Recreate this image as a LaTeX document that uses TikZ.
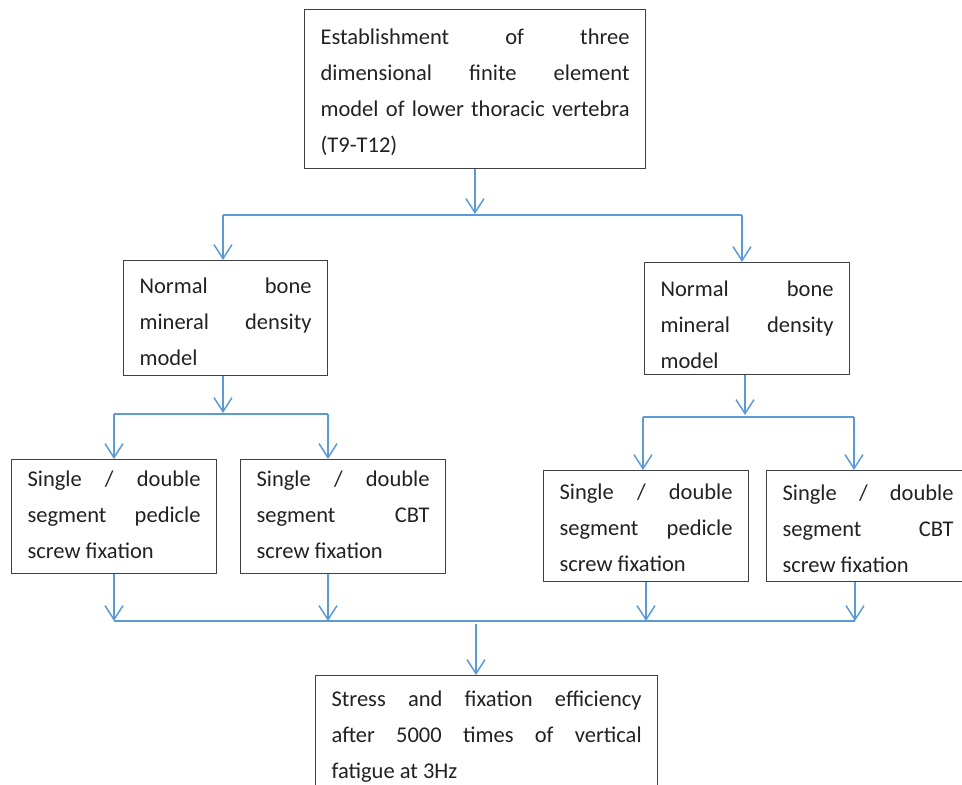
\documentclass[tikz,border=0pt]{standalone}
\usepackage{fontspec}
\setmainfont{Carlito}
\usetikzlibrary{arrows.meta}
\definecolor{flowblue}{RGB}{91,155,213}
\definecolor{boxgray}{RGB}{64,64,64}
\definecolor{textgray}{RGB}{34,34,34}
\newcommand{\boxfont}{\fontsize{22.5}{36}\selectfont\hyphenpenalty=10000\relax\exhyphenpenalty=10000\relax}
\tikzset{
  frame/.style={draw=boxgray, line width=1.2pt, rectangle, anchor=north west, inner sep=0pt},
  txt/.style={inner sep=0pt, align=justify, text=textgray, font=\boxfont},
  flow/.style={draw=flowblue, line width=1.5pt},
  arr/.style={flow, -{Straight Barb[length=14pt,width=18pt]}},
}
\begin{document}
\begin{tikzpicture}[x=1pt,y=-1pt]
\useasboundingbox (0,0) rectangle (962,785);
\clip (0,0) rectangle (962,785);
% frames
\node[frame, minimum width=341pt, minimum height=159pt] (top) at (304,9) {};
\node[frame, minimum width=204pt, minimum height=115pt] (ml) at (123,260) {};
\node[frame, minimum width=205pt, minimum height=112pt] (mr) at (644,262) {};
\node[frame, minimum width=205pt, minimum height=114pt] (ll) at (11,459) {};
\node[frame, minimum width=205pt, minimum height=114pt] (lr) at (240,459) {};
\node[frame, minimum width=205pt, minimum height=111pt] (rl) at (543,470) {};
\node[frame, minimum width=203pt, minimum height=111pt] (rr) at (766,470) {};
\node[frame, minimum width=342pt, minimum height=125pt] (bot) at (315,675) {};
% texts
\node[txt, text width=309pt] (topt) at ([yshift=-3pt]top.center)
  {Establishment of three\linebreak dimensional finite element\linebreak model of lower thoracic vertebra\linebreak (T9-T12)};
\node[txt, text width=172pt] (mlt) at ([yshift=-3.5pt]ml.center)
  {Normal bone\linebreak mineral density\linebreak model};
\node[txt, text width=173pt] (mrt) at ([yshift=-6pt]mr.center)
  {Normal bone\linebreak mineral density\linebreak model};
\node[txt, text width=173pt] (llt) at ([yshift=1.5pt]ll.center)
  {Single / double\linebreak segment pedicle\linebreak screw fixation};
\node[txt, text width=173pt] (lrt) at ([yshift=1.5pt]lr.center)
  {Single / double\linebreak segment CBT\linebreak screw fixation};
\node[txt, text width=173pt] (rlt) at ([yshift=-2pt]rl.center)
  {Single / double\linebreak segment pedicle\linebreak screw fixation};
\node[txt, text width=171pt] (rrt) at ([yshift=-2.5pt]rr.center)
  {Single / double\linebreak segment CBT\linebreak screw fixation};
\node[txt, text width=310pt] (bott) at ([yshift=1.5pt]bot.center)
  {Stress and fixation efficiency\linebreak after 5000 times of vertical\linebreak fatigue at 3Hz};
% junction coordinates
\coordinate (s1) at (475,214);
\coordinate (s1l) at (223,215);
\coordinate (s1r) at (742,215);
\coordinate (s2) at (223,413);
\coordinate (s2l) at (114,414);
\coordinate (s2r) at (328,414);
\coordinate (s3) at (745,415);
\coordinate (s3l) at (643,417);
\coordinate (s3r) at (854,417);
\coordinate (jl) at (114,621);
\coordinate (jr) at (855,621);
\coordinate (j1) at (114,621);
\coordinate (j2) at (328,621);
\coordinate (j3) at (646,621);
\coordinate (j4) at (855,621);
\coordinate (jo) at (476,624);
% connectors
\draw[arr] (top.south -| s1) -- (s1);
\draw[flow] (s1l) -- (s1r);
\draw[arr] (s1l) -- (ml.north -| s1l);
\draw[arr] (s1r) -- (mr.north -| s1r);
\draw[arr] (ml.south -| s2) -- (s2);
\draw[flow] (s2l) -- (s2r);
\draw[arr] (s2l) -- (ll.north -| s2l);
\draw[arr] (s2r) -- (lr.north -| s2r);
\draw[arr] (mr.south -| s3) -- (s3);
\draw[flow] (s3l) -- (s3r);
\draw[arr] (s3l) -- (rl.north -| s3l);
\draw[arr] (s3r) -- (rr.north -| s3r);
\draw[arr] (ll.south -| j1) -- (j1);
\draw[arr] (lr.south -| j2) -- (j2);
\draw[arr] (rl.south -| j3) -- (j3);
\draw[arr] (rr.south -| j4) -- (j4);
\draw[flow] (jl) -- (jr);
\draw[arr] (jo) -- (bot.north -| jo);
\end{tikzpicture}
\end{document}
